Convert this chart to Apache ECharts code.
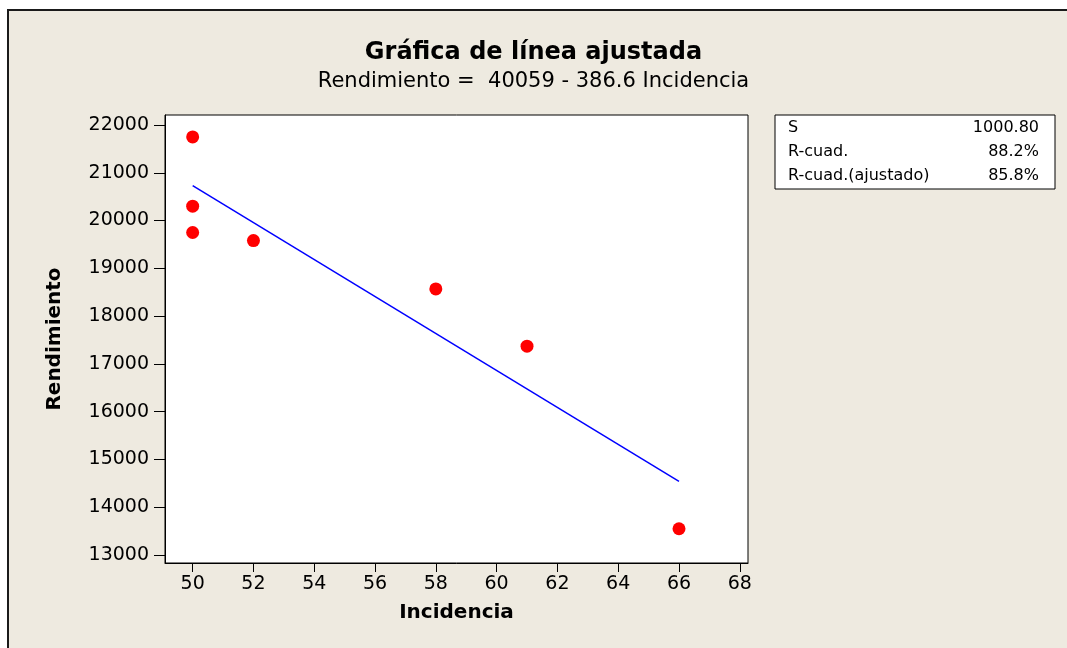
<!DOCTYPE html>
<html>
<head>
<meta charset="utf-8">
<script src="https://cdn.jsdelivr.net/npm/echarts@6/dist/echarts.min.js"></script>
<style>
  html, body { margin: 0; padding: 0; background: #ffffff; }
  #chart { width: 1067px; height: 648px; }
</style>
</head>
<body>
<div id="chart"></div>
<script>
// Observed data: Incidencia vs Rendimiento
const incidencia = [50, 50, 50, 52, 58, 61, 66];
const rendimiento = [21750, 20300, 19750, 19580, 18570, 17370, 13550];

// Fitted line: Rendimiento = 40059 - 386.6 Incidencia
const intercept = 40059;
const slope = -386.6;
const fitRange = [50, 66];

// Tick values
const xTicks = [50, 52, 54, 56, 58, 60, 62, 64, 66, 68];
const yTicks = [13000, 14000, 15000, 16000, 17000, 18000, 19000, 20000, 21000, 22000];

// Summary statistics table
const statNames = ['S', 'R-cuad.', 'R-cuad.(ajustado)'];
const statValues = ['1000.80', '88.2%', '85.8%'];

const titleText = 'Gráfica de línea ajustada';
const subtitleText = 'Rendimiento =  40059 - 386.6 Incidencia';

const FONT = 'DejaVu Sans, sans-serif';
const BG = '#EEEAE0';

const scatterData = incidencia.map((x, i) => [x, rendimiento[i]]);
const fitData = fitRange.map(x => [x, intercept + slope * x]);

const chart = echarts.init(document.getElementById('chart'), null, { renderer: 'canvas' });

const statGraphics = [];
statNames.forEach((name, i) => {
  statGraphics.push({
    type: 'text', left: 788, top: 120 + i * 24,
    style: { text: name, font: '16px ' + FONT, fill: '#000' }
  });
  statGraphics.push({
    type: 'text', right: 1067 - 1039, top: 120 + i * 24,
    style: { text: statValues[i], font: '16px ' + FONT, fill: '#000', textAlign: 'right' }
  });
});

chart.setOption({
  backgroundColor: '#ffffff',
  animation: false,
  graphic: [
    {
      type: 'rect', z: -10, silent: true,
      shape: { x: 8, y: 10, width: 1080, height: 660 },
      style: { fill: BG, stroke: '#1a1a1a', lineWidth: 2 }
    },
    {
      type: 'text', left: 'center', top: 41,
      style: { text: titleText, font: 'bold 24px ' + FONT, fill: '#000', textAlign: 'center' },
      x: 8
    },
    {
      type: 'text', left: 'center', top: 71,
      style: { text: subtitleText, font: '21px ' + FONT, fill: '#000', textAlign: 'center' },
      x: 8
    },
    {
      type: 'rect', silent: true,
      shape: { x: 775, y: 115, width: 280, height: 74 },
      style: { fill: '#ffffff', stroke: '#000', lineWidth: 1 }
    }
  ].concat(statGraphics),
  grid: {
    left: 165, top: 115, width: 583, height: 448,
    show: true, backgroundColor: '#ffffff', borderColor: '#000', borderWidth: 1,
    containLabel: false
  },
  xAxis: {
    type: 'value', min: 49.09, max: 68.27,
    name: 'Incidencia', nameLocation: 'middle', nameGap: 40,
    nameTextStyle: { fontFamily: FONT, fontWeight: 'bold', fontSize: 20, color: '#000' },
    axisLine: { show: true, lineStyle: { color: '#000', width: 1 } },
    axisTick: { show: true, inside: false, length: 9, lineStyle: { color: '#000', width: 1 }, customValues: xTicks },
    axisLabel: { fontFamily: FONT, fontSize: 19, color: '#000', margin: 12, customValues: xTicks },
    splitLine: { show: false }
  },
  yAxis: {
    type: 'value', min: 12833, max: 22209,
    name: 'Rendimiento', nameLocation: 'middle', nameGap: 100, nameRotate: 90,
    nameTextStyle: { fontFamily: FONT, fontWeight: 'bold', fontSize: 20, color: '#000' },
    axisLine: { show: true, lineStyle: { color: '#000', width: 1 } },
    axisTick: { show: true, inside: false, length: 11, lineStyle: { color: '#000', width: 1 }, customValues: yTicks },
    axisLabel: {
      fontFamily: FONT, fontSize: 19, color: '#000', margin: 16, customValues: yTicks,
      formatter: v => String(v)
    },
    splitLine: { show: false }
  },
  series: [
    {
      type: 'line', data: fitData, symbol: 'none',
      lineStyle: { color: '#0000FF', width: 1.5 }, z: 2
    },
    {
      type: 'scatter', data: scatterData, symbol: 'circle', symbolSize: 13,
      itemStyle: { color: '#FF0000', opacity: 1 }, z: 3
    }
  ]
});
</script>
</body>
</html>
